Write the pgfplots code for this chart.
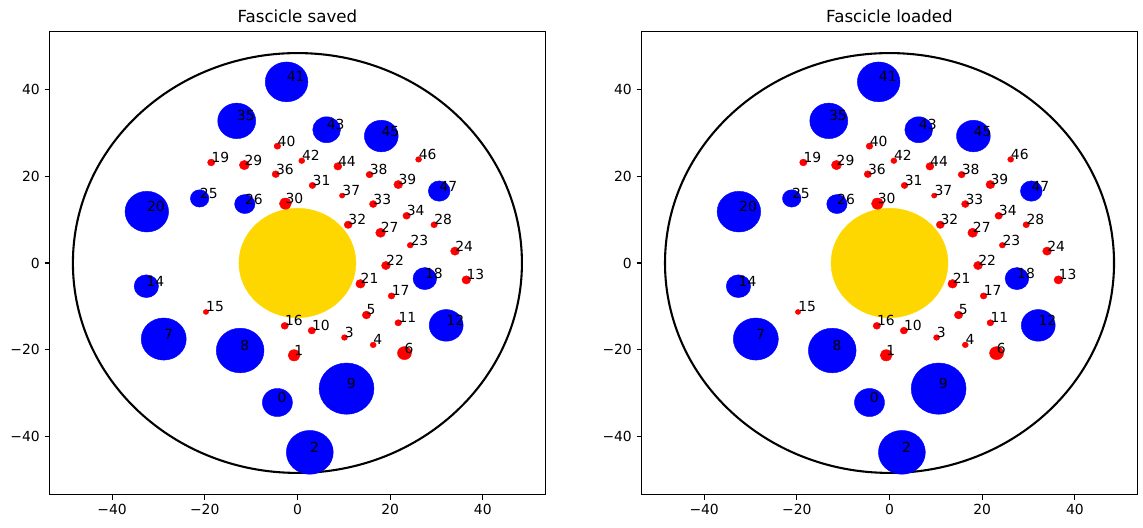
\documentclass[border=0pt]{standalone}
\usepackage{pgfplots}
\pgfplotsset{compat=1.18}
\usepackage{pgfplotstable}
\usepackage{fontspec}
\setmainfont{DejaVu Sans}

\definecolor{mplgold}{RGB}{255,215,0}

% blue fascicles: x y radius label
\pgfplotstableread{
x y r lab
-2.34 41.8 4.6 41
-13.1 32.8 4.1 35
6.3 30.75 3.0 43
18.1 29.3 3.65 45
30.6 16.6 2.35 47
-32.5 11.85 4.7 20
-21.1 14.9 2.0 25
-11.35 13.6 2.2 26
-32.6 -5.36 2.63 14
27.5 -3.6 2.55 18
32.1 -14.4 3.66 12
-28.85 -17.55 4.86 7
-12.36 -20.2 5.15 8
-4.32 -32.2 3.24 0
10.6 -29.0 5.92 9
2.67 -43.7 5.06 2
}\bluetab

% red fascicles: x y radius label
\pgfplotstableread{
x y r lab
-4.32 26.97 0.72 40
-18.6 23.2 0.79 19
-11.45 22.6 1.08 29
-4.68 20.5 0.79 36
0.94 23.6 0.65 42
8.72 22.3 0.86 44
15.56 20.4 0.75 38
26.15 23.9 0.65 46
21.76 18.1 0.95 39
3.24 17.9 0.72 31
9.65 15.55 0.58 37
16.35 13.6 0.8 33
-2.6 13.7 1.3 30
23.56 10.9 0.8 34
29.5 8.83 0.7 28
10.95 8.83 0.86 32
17.94 6.98 1.05 27
24.35 4.1 0.65 23
34.0 2.74 0.95 24
19.1 -0.58 0.95 22
13.6 -4.8 1.0 21
36.45 -3.9 0.95 13
20.3 -7.6 0.72 17
14.9 -12.0 0.9 5
21.76 -13.8 0.72 11
-2.74 -14.5 0.79 16
3.1 -15.6 0.79 10
10.16 -17.2 0.65 3
16.35 -18.9 0.65 4
23.1 -20.8 1.51 6
-0.72 -21.3 1.3 1
-19.74 -11.3 0.58 15
}\redtab

\pgfplotsset{
  panel/.style={
    scale only axis,
    width=357pt, height=333.8pt,
    xmin=-53.5, xmax=53.5, ymin=-53.5, ymax=53.5,
    anchor=south west,
    axis line style={line width=0.8pt},
    tick style={line width=0.8pt, black},
    tick align=outside,
    major tick length=3.5pt,
    xtick={-40,-20,0,20,40},
    xticklabels={−40,−20,0,20,40},
    ytick={-40,-20,0,20,40},
    yticklabels={−40,−20,0,20,40},
    xtick pos=bottom, ytick pos=left,
    ticklabel style={font=\fontsize{10}{12}\selectfont},
    every axis title/.style={font=\fontsize{12}{14}\selectfont, at={(0.5,1)}, anchor=base, yshift=6pt, inner sep=0pt},
    clip=false,
  },
  disc/.style={
    only marks, mark=*, scatter,
    visualization depends on={\thisrow{r} \as \rad},
    scatter/@pre marker code/.code={\scope[/tikz/mark size=\rad*3.1196pt]},
    scatter/@post marker code/.code={\endscope},
    mark options={xscale=1.0695, fill=#1, draw=#1, line width=0.3pt},
  },
  labs/.style={
    draw=none, mark=none,
    nodes near coords,
    point meta=explicit symbolic,
    every node near coord/.append style={anchor=base west, inner sep=0pt, font=\fontsize{10}{12}\selectfont, text=black},
  },
}

\newcommand\panelcontent{%
  \addplot[only marks, mark=o, mark size=48.45*3.1196pt, mark options={xscale=1.0695, line width=1.5pt, draw=black}] coordinates {(0,0)};
  \addplot[only marks, mark=*, mark size=12.62*3.1196pt, mark options={xscale=1.0695, draw=mplgold, fill=mplgold, line width=0.3pt}] coordinates {(0,0)};
  \addplot[disc=blue] table[x=x, y=y] {\bluetab};
  \addplot[disc=red] table[x=x, y=y] {\redtab};
  \addplot[labs] table[x=x, y=y, meta=lab] {\bluetab};
  \addplot[labs] table[x=x, y=y, meta=lab] {\redtab};
}

\begin{document}
\begin{tikzpicture}
\path[use as bounding box] (0pt,0pt) rectangle (822.96pt,380.16pt);
\begin{axis}[panel, at={(35.64pt,23.9pt)}, title={Fascicle saved}]
\panelcontent
\end{axis}
\begin{axis}[panel, at={(461.95pt,23.9pt)}, title={Fascicle loaded}]
\panelcontent
\end{axis}
\end{tikzpicture}
\end{document}
